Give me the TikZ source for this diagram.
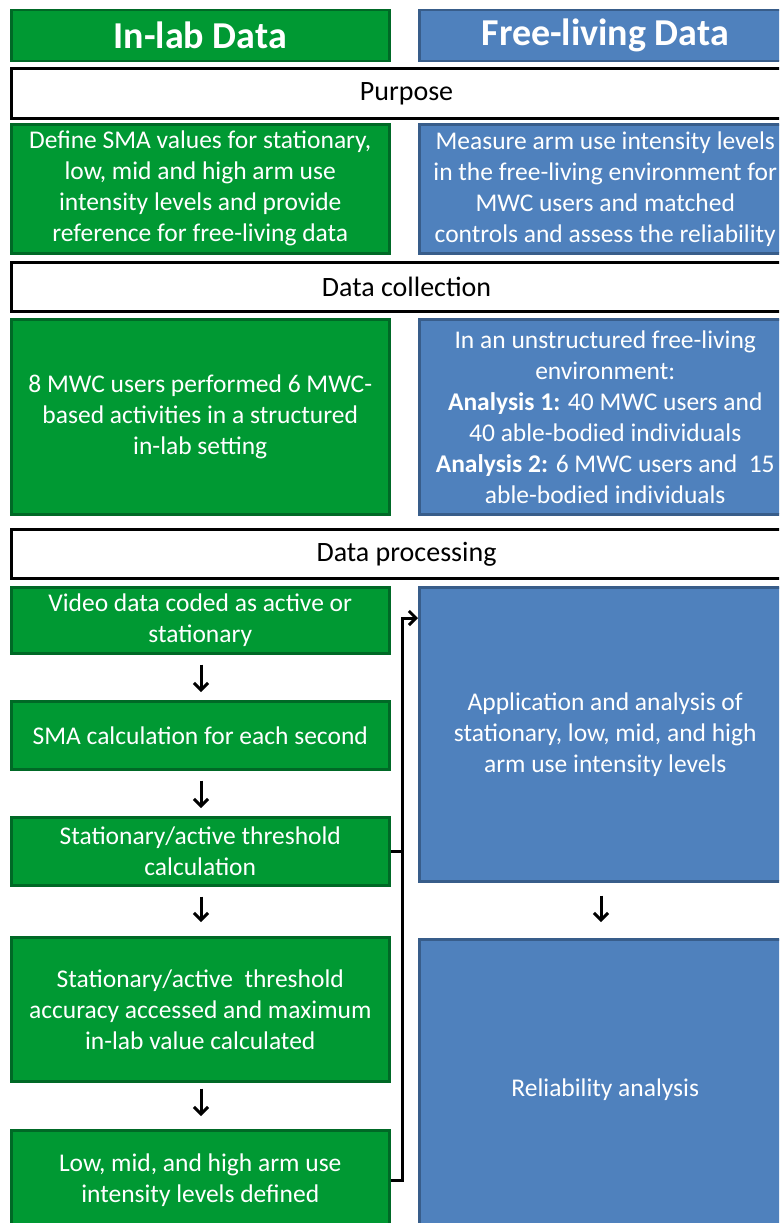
\documentclass[tikz,border=0pt]{standalone}
\usepackage{fontspec}
\setmainfont{Carlito}
\usetikzlibrary{arrows.meta}
\definecolor{gfill}{RGB}{0,153,51}
\definecolor{gline}{RGB}{0,105,38}
\definecolor{bfill}{RGB}{79,129,189}
\definecolor{bline}{RGB}{56,93,138}
\tikzset{
  gbox/.style={draw=gline, fill=gfill, line width=2.5pt, text=white, align=center, anchor=north west, inner sep=0pt,
    font=\fontsize{25.5}{31}\selectfont},
  bbox/.style={draw=bline, fill=bfill, line width=2.5pt, text=white, align=center, anchor=north west, inner sep=0pt,
    font=\fontsize{25.5}{31}\selectfont},
  bar/.style={draw=black, fill=white, line width=3pt, text=black, anchor=north west, inner sep=0pt,
    minimum width=790pt, font=\fontsize{28}{32}\selectfont},
  head/.style={font=\fontsize{38}{40}\selectfont\bfseries},
  arr/.style={line width=3pt, -{Straight Barb[length=7pt,width=14pt,line width=3pt]}},
  conn/.style={line width=3pt},
}
\begin{document}
\begin{tikzpicture}[x=1pt,y=-1pt]
\useasboundingbox (0,0) rectangle (779,1223);
\clip (0,0) rectangle (779,1223);
% headers
\node[gbox, head, minimum width=378pt, minimum height=51pt] (h1) at (10,9) {In-lab Data};
\node[bbox, head, minimum width=372pt, minimum height=51pt] (h2) at (418,9) {Free-living Data};
% purpose
\node[bar, minimum height=50pt] (p) at (10,67) {Purpose};
\node[gbox, minimum width=378pt, minimum height=129pt] (pg) at (10,123) {Define SMA values for stationary,\\low, mid and high arm use\\intensity levels and provide\\reference for free-living data};
\node[bbox, minimum width=372pt, minimum height=129pt] (pb) at (418,123) {Measure arm use intensity levels\\in the free-living environment for\\MWC users and matched\\controls and assess the reliability};
% data collection
\node[bar, minimum height=49pt] (dc) at (10,261) {Data collection};
\node[gbox, minimum width=378pt, minimum height=195pt] (cg) at (10,318) {8 MWC users performed 6 MWC-\\based activities in a structured\\in-lab setting};
\node[bbox, minimum width=372pt, minimum height=195pt] (cb) at (418,318) {In an unstructured free-living\\environment:\\\textbf{Analysis 1:} 40 MWC users and\\40 able-bodied individuals\\\textbf{Analysis 2:} 6 MWC users and~ 15\\able-bodied individuals};
% data processing
\node[bar, minimum height=49pt] (dp) at (10,528) {Data processing};
\node[gbox, minimum width=378pt, minimum height=66pt] (g1) at (10,586) {Video data coded as active or\\stationary};
\node[gbox, minimum width=378pt, minimum height=68pt] (g2) at (10,700) {SMA calculation for each second};
\node[gbox, minimum width=378pt, minimum height=68pt] (g3) at (10,816) {Stationary/active threshold\\calculation};
\node[gbox, minimum width=378pt, minimum height=144pt] (g4) at (10,936) {Stationary/active~ threshold\\accuracy accessed and maximum\\in-lab value calculated};
\node[gbox, minimum width=378pt, minimum height=100pt] (g5) at (10,1129) {Low, mid, and high arm use\\intensity levels defined};
\node[bbox, minimum width=372pt, minimum height=294pt] (b1) at (418,586) {Application and analysis of\\stationary, low, mid, and high\\arm use intensity levels};
\node[bbox, minimum width=372pt, minimum height=300pt] (b2) at (418,938) {Reliability analysis};
% arrows
\draw[arr] ([yshift=-10pt]g1.south -| 201,0) -- ([yshift=8pt]g2.north -| 201,0);
\draw[arr] ([yshift=-10pt]g2.south -| 201,0) -- ([yshift=8pt]g3.north -| 201,0);
\draw[arr] ([yshift=-10pt]g3.south -| 201,0) -- ([yshift=14pt]g4.north -| 201,0);
\draw[arr] ([yshift=-6pt]g4.south -| 201,0) -- ([yshift=13pt]g5.north -| 201,0);
\draw[arr] ([yshift=-13pt]b1.south -| 601,0) -- ([yshift=16pt]b2.north -| 601,0);
% connector
\coordinate (top) at (402,618);
\draw[conn] (g3.east) -- (g3.east -| top);
\draw[arr] (g5.east) -| (top) -- (top -| b1.west);
\end{tikzpicture}
\end{document}
